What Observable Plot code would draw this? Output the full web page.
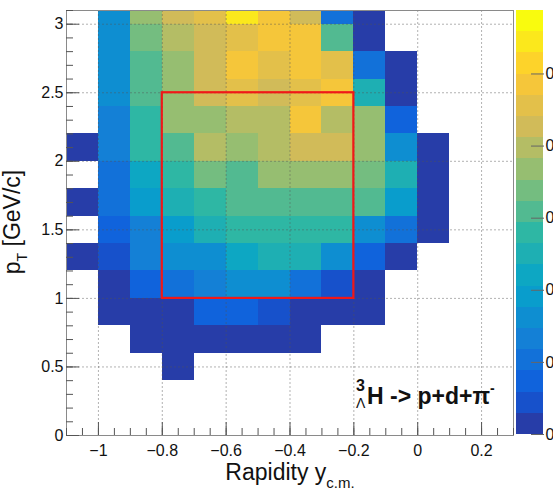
<!DOCTYPE html>
<html><head><meta charset="utf-8">
<script src="https://cdn.jsdelivr.net/npm/d3@7"></script>
<script src="https://cdn.jsdelivr.net/npm/@observablehq/plot@0.6"></script>
<style>
html,body{margin:0;padding:0;background:#fff;overflow:hidden;}
#wrap{position:relative;width:553px;height:491px;overflow:hidden;}
#wrap svg{position:absolute;top:0;}
</style></head><body><div id="wrap"></div>
<script>
// ---- data ----
const rapidityEdges = [-1.1, -1.0, -0.9, -0.8, -0.7, -0.6, -0.5, -0.4, -0.3, -0.2, -0.1, 0.0, 0.1];
const ptEdges = [0.4, 0.6, 0.8, 1.0, 1.2, 1.4, 1.6, 1.8, 2.0, 2.2, 2.4, 2.6, 2.8, 3.0, 3.2];
// one row per pT bin, top (3.0-3.2) to bottom (0.4-0.6); null = empty bin
const yieldRows = [
  [null, .0032, .0074, .0085, .0091, .0109, .0097, .0085, .0021, .0003, null, null],
  [null, .0032, .0068, .0079, .0085, .0091, .0097, .0097, .0062, .0003, null, null],
  [null, .0032, .0062, .0074, .0085, .0097, .0091, .0097, .0091, .0021, .0003, null],
  [null, .0032, .0062, .0074, .0085, .0091, .0085, .0091, .0097, .0050, .0003, null],
  [null, .0026, .0056, .0074, .0074, .0079, .0079, .0097, .0079, .0074, .0015, null],
  [.0003, .0026, .0056, .0062, .0079, .0074, .0079, .0085, .0085, .0074, .0032, .0003],
  [null, .0021, .0044, .0056, .0068, .0062, .0074, .0074, .0074, .0068, .0050, .0003],
  [.0003, .0021, .0038, .0050, .0056, .0062, .0062, .0062, .0062, .0062, .0038, .0003],
  [null, .0015, .0026, .0038, .0050, .0056, .0056, .0056, .0056, .0032, .0021, .0003],
  [.0003, .0009, .0026, .0032, .0032, .0044, .0050, .0050, .0032, .0015, .0003, null],
  [null, .0003, .0015, .0021, .0026, .0032, .0032, .0021, .0009, .0003, null, null],
  [null, .0003, .0003, .0003, .0015, .0015, .0009, .0003, .0003, .0003, null, null],
  [null, null, .0003, .0003, .0003, .0003, .0003, .0003, null, null, null, null],
  [null, null, null, .0003, null, null, null, null, null, null, null, null]
];
const signalRegion = [{x1: -0.8, x2: -0.2, y1: 1.0, y2: 2.5}];
const xTicks = [-1, -0.8, -0.6, -0.4, -0.2, 0, 0.2];
const yTicks = [0, 0.5, 1, 1.5, 2, 2.5, 3];
const zTicks = [0, 0.002, 0.004, 0.006, 0.008, 0.01];
const zMax = 0.01176;
const nLevels = 20;

// ---- ROOT kBird palette ----
const birdStops = [0.0, 0.125, 0.25, 0.375, 0.5, 0.625, 0.75, 0.875, 1.0];
const birdR = [0.2082, 0.0592, 0.0780, 0.0232, 0.1802, 0.5301, 0.8186, 0.9956, 0.9764];
const birdG = [0.1664, 0.3599, 0.5041, 0.6419, 0.7178, 0.7492, 0.7328, 0.7862, 0.9832];
const birdB = [0.5293, 0.8684, 0.8385, 0.7914, 0.6425, 0.4662, 0.3499, 0.1968, 0.0539];
function bird(t) {
  let i = 0; while (i < birdStops.length - 2 && t > birdStops[i + 1]) i++;
  const f = (t - birdStops[i]) / (birdStops[i + 1] - birdStops[i]);
  const c = a => Math.round(255 * (a[i] + (a[i + 1] - a[i]) * f));
  return d3.rgb(c(birdR), c(birdG), c(birdB)).formatHex();
}
const thresholds = d3.range(1, nLevels).map(i => i * zMax / nLevels);
const levelColors = d3.range(nLevels).map(i => bird(Math.floor((i + 0.99) * 255 / nLevels) / 254));
const colorScale = {type: "threshold", domain: thresholds, range: levelColors};

const cells = [];
yieldRows.forEach((row, r) => {
  const b = ptEdges.length - 2 - r;
  row.forEach((v, c) => {
    if (v != null) cells.push({x1: rapidityEdges[c], x2: rapidityEdges[c + 1], y1: ptEdges[b], y2: ptEdges[b + 1], v});
  });
});
const levels = d3.range(nLevels).map(i => ({lo: i * zMax / nLevels, hi: (i + 1) * zMax / nLevels, mid: (i + 0.5) * zMax / nLevels}));

const font = "'Liberation Sans', Arial, Helvetica, sans-serif";
const fmt = d => d < 0 ? "\u2212" + (-d) : String(d);
const xMinor = d3.range(-22, 7).map(i => +(i * 0.05).toFixed(2));
const yMinor = d3.range(0, 32).map(i => +(i * 0.1).toFixed(1));
const gridStyle = {stroke: "#555", strokeOpacity: 0.45, strokeDasharray: "2,2"};

const main = Plot.plot({
  width: 553, height: 491,
  marginLeft: 66, marginRight: 40, marginTop: 10, marginBottom: 56,
  style: {fontFamily: font, fontSize: "16px", color: "#111", background: "transparent"},
  x: {domain: [-1.1, 0.3], axis: null},
  y: {domain: [0, 3.1], axis: null},
  color: colorScale,
  marks: [
    Plot.rect(cells, {x1: "x1", x2: "x2", y1: "y1", y2: "y2", fill: "v", clip: true, shapeRendering: "crispEdges"}),
    Plot.gridX(xTicks, gridStyle),
    Plot.gridY(yTicks, gridStyle),
    Plot.rect(signalRegion, {x1: "x1", x2: "x2", y1: "y1", y2: "y2", fill: "none", stroke: "#f01818", strokeWidth: 2.2}),
    Plot.frame({stroke: "#8a8a8a"}),
    Plot.axisX(xMinor, {tickSize: -7, fill: "none", stroke: "#555"}),
    Plot.axisX(xTicks, {tickSize: -13, fill: "none", stroke: "#555"}),
    Plot.axisX(xTicks, {tickSize: 0, tickPadding: 9, tickFormat: fmt, label: null, fontSize: 16}),
    Plot.axisY(yMinor, {tickSize: -7, fill: "none", stroke: "#555"}),
    Plot.axisY(yTicks, {tickSize: -13, fill: "none", stroke: "#555"}),
    Plot.axisY(yTicks, {tickSize: 0, tickPadding: 3, tickFormat: fmt, label: null, fontSize: 16})
  ]
});

const bar = Plot.plot({
  width: 53, height: 491,
  marginLeft: 16, marginRight: 10, marginTop: 10, marginBottom: 57,
  style: {fontFamily: font, fontSize: "16px", color: "#111", background: "transparent"},
  x: {domain: [0, 1], axis: null},
  y: {domain: [0, zMax], axis: null},
  color: colorScale,
  marks: [
    Plot.rect(levels, {x1: 0, x2: 1, y1: "lo", y2: "hi", fill: "mid", shapeRendering: "crispEdges"}),
    Plot.axisY(zTicks, {anchor: "right", tickSize: -13, fill: "none", stroke: "#666"}),
    Plot.axisY(zTicks, {anchor: "right", tickSize: 0, tickPadding: 2, tickFormat: d => String(d), label: null, fontSize: 16})
  ]
});

const wrap = document.getElementById("wrap");
main.style.left = "0px";
bar.style.left = "500px";
wrap.appendChild(main);
wrap.appendChild(bar);

// axis titles and annotation with sub/superscripts
const svg = d3.select(main);
const yt = svg.append("text").attr("transform", "translate(20,222) rotate(-90)")
  .attr("text-anchor", "middle").attr("font-family", font).attr("font-size", 23).attr("fill", "#111");
yt.append("tspan").text("p");
yt.append("tspan").attr("font-size", 14).attr("dy", 7).text("T");
yt.append("tspan").attr("dy", -7).text(" [GeV/c]");

const xt = svg.append("text").attr("x", 290).attr("y", 480)
  .attr("text-anchor", "middle").attr("font-family", font).attr("font-size", 23).attr("fill", "#111");
xt.append("tspan").text("Rapidity y");
xt.append("tspan").attr("font-size", 15).attr("dy", 8).text("c.m.");

const ann = svg.append("g").attr("font-family", font).attr("fill", "#111").attr("text-anchor", "start");
ann.append("text").attr("x", 356).attr("y", 391).attr("font-size", 16).attr("font-weight", "bold").text("3");
ann.append("text").attr("x", 356).attr("y", 408).attr("font-size", 14).text("\u039b");
const at = ann.append("text").attr("x", 367).attr("y", 404).attr("font-size", 23).attr("font-weight", "bold");
at.append("tspan").text("H -> p+d+\u03c0");
at.append("tspan").attr("font-size", 14).attr("dy", -11).text("-");
</script></body></html>
